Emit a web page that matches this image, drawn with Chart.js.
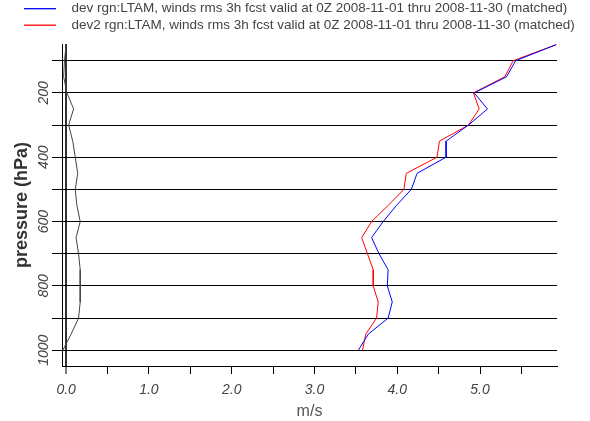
<!DOCTYPE html>
<html><head><meta charset="utf-8">
<script src="https://cdn.jsdelivr.net/npm/chart.js@4/dist/chart.umd.min.js"></script>
<style>html,body{margin:0;padding:0;background:#fff}</style>
</head><body>
<canvas id="c" width="590" height="421"></canvas>
<script>
const pressureLevels = [50,100,150,200,250,300,350,400,450,500,550,600,650,700,750,800,850,900,950,1000];
const devValues  = [5.92,5.43,5.32,4.93,5.09,4.86,4.59,4.59,4.24,4.17,3.99,3.83,3.69,3.78,3.89,3.88,3.94,3.89,3.65,3.53];
const dev2Values = [5.92,5.40,5.30,4.92,4.99,4.86,4.51,4.48,4.11,4.08,3.89,3.69,3.57,3.64,3.71,3.71,3.77,3.75,3.62,3.58];
const diffValues = [0.00,-0.02,-0.03,0.01,0.09,0.03,0.08,0.11,0.14,0.11,0.13,0.17,0.12,0.15,0.17,0.17,0.17,0.15,0.06,-0.04];
const seriesNames = [
  'dev rgn:LTAM, winds rms 3h fcst valid at 0Z 2008-11-01 thru 2008-11-30 (matched)',
  'dev2 rgn:LTAM, winds rms 3h fcst valid at 0Z 2008-11-01 thru 2008-11-30 (matched)'
];
const seriesColors = ['#0000ff', '#ff0000'];
const xTickValues = [0,0.5,1,1.5,2,2.5,3,3.5,4,4.5,5,5.5];
const xTickLabels = ['0.0','','1.0','','2.0','','3.0','','4.0','','5.0',''];
const yGridValues = [100,200,300,400,500,600,700,800,900,1000];
const yTickValues = [200,400,600,800,1000];
const yTickLabels = ['200','400','600','800','1000'];

const FONT = '"Liberation Sans", Arial, Helvetica, sans-serif';
const toPts = vals => vals.map((v, i) => ({x: v, y: pressureLevels[i]}));

const extras = {
  id: 'extras',
  afterDraw(chart) {
    const ctx = chart.ctx;
    const ys = chart.scales.y;
    ctx.save();
    ctx.fillStyle = '#444';
    ctx.font = 'italic 14px ' + FONT;
    ctx.textAlign = 'center';
    ctx.textBaseline = 'middle';
    yTickValues.forEach((v, i) => {
      const py = ys.getPixelForValue(v);
      ctx.save();
      ctx.translate(44, py);
      ctx.rotate(-Math.PI / 2);
      ctx.fillText(yTickLabels[i], 0, 0);
      ctx.restore();
    });
    ctx.restore();
    seriesNames.forEach((name, i) => {
      const yy = 8.7 + i * 16.5;
      ctx.save();
      ctx.setLineDash([]);
      ctx.globalAlpha = 1;
      ctx.lineWidth = 1.3;
      ctx.strokeStyle = seriesColors[i];
      ctx.beginPath();
      ctx.moveTo(24, yy);
      ctx.lineTo(56, yy);
      ctx.stroke();
      ctx.font = '13.5px ' + FONT;
      ctx.textAlign = 'left';
      ctx.textBaseline = 'middle';
      ctx.fillStyle = '#444';
      ctx.fillText(name, 71.5, yy);
      ctx.restore();
    });
  }
};

new Chart(document.getElementById('c'), {
  type: 'scatter',
  data: {
    datasets: [
      {label: seriesNames[0], data: toPts(devValues), borderColor: seriesColors[0], showLine: true, pointRadius: 0, borderWidth: 1, fill: false, clip: false},
      {label: seriesNames[1], data: toPts(dev2Values), borderColor: seriesColors[1], showLine: true, pointRadius: 0, borderWidth: 1, fill: false, clip: false},
      {label: 'diff', data: toPts(diffValues), borderColor: '#444', showLine: true, pointRadius: 0, borderWidth: 1, fill: false, clip: false}
    ]
  },
  options: {
    responsive: false,
    animation: false,
    events: [],
    layout: {padding: {top: 44, right: 33, left: 0, bottom: 0}},
    plugins: {legend: {display: false}, tooltip: {enabled: false}},
    scales: {
      x: {
        type: 'linear', min: -0.05, max: 5.93,
        afterBuildTicks: s => { s.ticks = xTickValues.map(v => ({value: v})); },
        afterFit: s => { s.height = 55; },
        border: {display: true, color: '#000', width: 1},
        grid: {
          color: c => (c.tick && c.tick.value === 0) ? '#333' : 'rgba(0,0,0,0)',
          lineWidth: c => (c.tick && c.tick.value === 0) ? 2 : 1,
          drawTicks: true, tickLength: 8, tickColor: '#000', tickWidth: 1
        },
        ticks: {
          autoSkip: false, maxRotation: 0, padding: 8, color: '#444',
          font: {family: FONT, size: 14, style: 'italic'},
          callback: (v) => { const i = xTickValues.indexOf(v); return i >= 0 ? xTickLabels[i] : ''; }
        },
        title: {display: true, text: 'm/s', color: '#555', font: {family: FONT, size: 16}, padding: {top: 0, bottom: 0}}
      },
      y: {
        type: 'linear', reverse: true, min: 48, max: 1049,
        afterBuildTicks: s => { s.ticks = yGridValues.map(v => ({value: v})); },
        afterFit: s => { s.width = 62; },
        border: {display: true, color: '#000', width: 1},
        grid: {color: '#000', lineWidth: 1, drawTicks: true, tickLength: 10, tickColor: '#000', tickWidth: 1},
        ticks: {display: false},
        title: {display: true, text: 'pressure (hPa)', color: '#333', font: {family: FONT, size: 18, weight: 'bold'}, padding: {top: 11, bottom: 0}}
      }
    }
  },
  plugins: [extras]
});
</script>
</body></html>
